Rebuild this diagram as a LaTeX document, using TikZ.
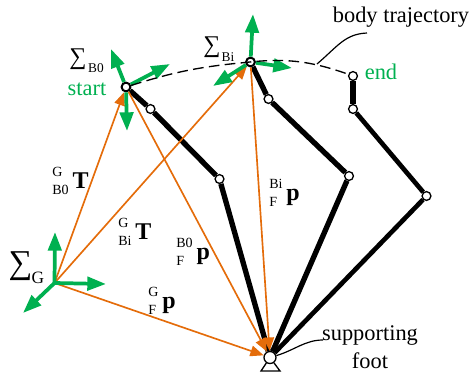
\documentclass[tikz,border=0pt]{standalone}
\usepackage{fontspec}
\setmainfont{Liberation Serif}
\usetikzlibrary{arrows.meta}
\definecolor{axisgreen}{RGB}{0,176,80}
\definecolor{vecorange}{RGB}{228,108,10}
\newcommand{\frameref}[3]{\begin{tabular}{@{}l@{}}\fontsize{10.5}{17.5}\selectfont #1\\[1.5pt]\fontsize{10.5}{17.5}\selectfont #2\end{tabular}\hspace{3pt}\raisebox{-2pt}{\fontsize{18}{18}\selectfont\bfseries #3}}
\tikzset{
    joint/.style={circle, draw=black, fill=white, line width=1pt, inner sep=0pt, minimum size=6.6pt},
    link/.style={black, line width=4pt},
    axis/.style={axisgreen, line width=2.8pt, -{Triangle[length=14pt, width=10pt]}},
    vec/.style={vecorange, line width=1.25pt, -{Triangle[length=10pt, width=8pt]}},
    lbl/.style={inner sep=0pt, font=\fontsize{16.8}{21}\selectfont},
    frm/.style={inner sep=0pt, inner ysep=0pt},
}
\begin{document}
\begin{tikzpicture}[x=0.75pt, y=-0.75pt]
    \useasboundingbox (0,0) rectangle (471,372);

    \node[joint, line width=1.5pt] (B0) at (126,87) {};
    \node[joint] (A1) at (150.5,109) {};
    \node[joint] (A2) at (219.5,179) {};
    \node[joint, line width=1.5pt] (Bi) at (250.5,62) {};
    \node[joint] (C1) at (268.5,99) {};
    \node[joint] (C2) at (349,176) {};
    \node[joint] (End) at (353,76) {};
    \node[joint] (D1) at (353,109) {};
    \node[joint] (D2) at (426.5,196) {};
    \node[joint, minimum size=9pt] (Foot) at (270,357.5) {};
    \coordinate (G) at (54.5,283);

    \coordinate (tl) at (261,371);
    \coordinate (tr) at (280,371);
    \draw[line width=1pt] (Foot) -- (tl) -- (tr) -- (Foot);

    \draw[link] (B0) -- (A1);
    \draw[link] (A1) -- (A2);
    \draw[link] (A2) -- (Foot);
    \draw[link] (Bi) -- (C1);
    \draw[link] (C1) -- (C2);
    \draw[link] (C2) -- (Foot);
    \draw[link] (End) -- (D1);
    \draw[link, line width=3.5pt] (D1) -- (D2);
    \draw[link, line width=3.5pt] (D2) -- (Foot);

    \draw[vec] (G) -- (B0);
    \draw[vec] (G) -- (Bi);
    \draw[vec] (G) -- (Foot);
    \draw[vec] (B0) -- (Foot);
    \draw[vec] (Bi) -- (Foot);

    \foreach \o/\n/\x/\y in {B0/bu/111/49, B0/br/170/64, B0/bd/127/131,
                             Bi/cu/253/14, Bi/cr/292/68, Bi/cd/213/86,
                             G/gu/55/232, G/gr/106/284, G/gd/23/313} {
        \coordinate (\n) at (\x,\y);
        \draw[axis] (\o) -- (\n);
    }

    \draw[dashed, line width=1pt, dash pattern=on 8pt off 4pt] (B0) to[bend left=6] (Bi) to[bend left=13] (End);

    \node[lbl, anchor=base] (BodyLbl) at (401,22) {body trajectory};
    \coordinate (trajpt) at (317,64);
    \coordinate (bodyend) at (367,33);
    \draw[line width=0.9pt] (trajpt) .. controls (338,46) and (345,34) .. (bodyend);

    \node[lbl, align=center] (SuppLbl) at (370,347) {supporting\\foot};
    \coordinate (suppend) at (323,340);
    \draw[line width=0.9pt] (Foot) .. controls (295,350) and (305,340) .. (suppend);

    \node[lbl, text=axisgreen, anchor=base] (StartLbl) at (87,95) {start};
    \node[lbl, text=axisgreen, anchor=base] (EndLbl) at (381,79) {end};

    \node[inner sep=0pt, font=\fontsize{25}{25}\selectfont] (SigG) at (20.5,266) {∑};
    \node[inner sep=0pt, font=\fontsize{10}{10}\selectfont, scale=1.3] (SigGsub) at (38,278) {G};
    \node[inner sep=0pt, font=\fontsize{18}{18}\selectfont] (SigB) at (78,59) {∑};
    \node[inner sep=0pt, font=\fontsize{10}{10}\selectfont] (SigBsub) at (96,68) {B0};
    \node[inner sep=0pt, font=\fontsize{18}{18}\selectfont] (SigI) at (212,47) {∑};
    \node[inner sep=0pt, font=\fontsize{10}{10}\selectfont] (SigIsub) at (228,57) {Bi};

    \node[frm, anchor=west] (TB0) at (52,182) {\frameref{G}{B0}{T}};
    \node[frm, anchor=west] (TBi) at (118,233) {\frameref{G}{Bi}{T}};
    \node[frm, anchor=west] (PB0) at (176,253) {\frameref{B0}{F}{p}};
    \node[frm, anchor=west] (PBi) at (269,194) {\frameref{Bi}{F}{p}};
    \node[frm, anchor=west] (PG) at (148,302) {\frameref{G}{F}{p}};
\end{tikzpicture}
\end{document}
